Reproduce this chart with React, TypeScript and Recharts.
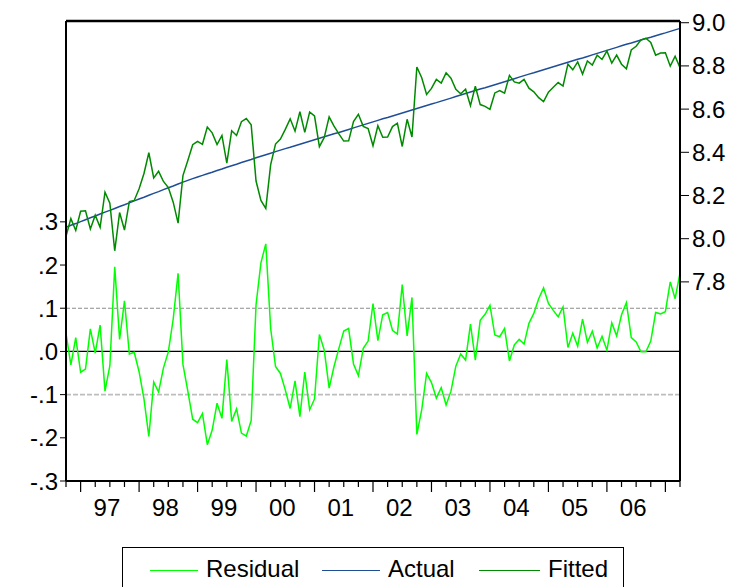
import React from "react";
import {
  LineChart,
  Line,
  XAxis,
  YAxis,
  ReferenceLine,
} from "recharts";

// Monthly sample 1996M10 - 2007M04
const RESIDUAL = [
  0.042, -0.031, 0.032, -0.048, -0.041, 0.052, -0.004, 0.061, -0.092, -0.033,
  0.196, 0.028, 0.117, -0.006, -0.002, -0.047, -0.11, -0.197, -0.071, -0.094,
  -0.038, -0.001, 0.075, 0.181, -0.03, -0.092, -0.157, -0.165, -0.144, -0.216,
  -0.182, -0.12, -0.155, -0.019, -0.162, -0.133, -0.189, -0.196, -0.16, 0.108,
  0.205, 0.249, 0.053, -0.035, -0.051, -0.089, -0.132, -0.068, -0.151, -0.048,
  -0.135, -0.11, 0.039, 0.003, -0.085, -0.035, 0.007, 0.047, 0.053, -0.029,
  -0.056, 0.007, 0.024, 0.111, 0.025, 0.085, 0.09, 0.049, 0.04, 0.155,
  0.036, 0.125, -0.192, -0.135, -0.051, -0.072, -0.108, -0.084, -0.124, -0.092,
  -0.034, -0.006, -0.02, 0.063, -0.02, 0.072, 0.086, 0.107, 0.038, 0.034,
  0.053, -0.022, 0.015, 0.028, 0.017, 0.065, 0.088, 0.122, 0.147, 0.111,
  0.095, 0.08, 0.103, 0.009, 0.042, 0.012, 0.075, 0.021, 0.047, 0.008,
  0.035, 0.003, 0.066, 0.036, 0.085, 0.113, 0.032, 0.022, -0.001, -0.001,
  0.024, 0.09, 0.087, 0.092, 0.161, 0.122, 0.182,
];

const ACTUAL = [
  8.053, 8.062, 8.07, 8.079, 8.088, 8.097, 8.105, 8.114, 8.123, 8.131,
  8.14, 8.149, 8.157, 8.166, 8.175, 8.184, 8.192, 8.201, 8.21, 8.218,
  8.227, 8.236, 8.244, 8.253, 8.262, 8.27, 8.278, 8.286, 8.293, 8.301,
  8.308, 8.316, 8.323, 8.331, 8.338, 8.345, 8.353, 8.36, 8.367, 8.375,
  8.382, 8.389, 8.396, 8.403, 8.41, 8.417, 8.423, 8.43, 8.437, 8.444,
  8.451, 8.458, 8.465, 8.472, 8.479, 8.486, 8.492, 8.499, 8.506, 8.513,
  8.52, 8.527, 8.534, 8.541, 8.548, 8.555, 8.561, 8.568, 8.575, 8.582,
  8.589, 8.596, 8.603, 8.61, 8.617, 8.624, 8.63, 8.637, 8.644, 8.651,
  8.658, 8.665, 8.672, 8.679, 8.686, 8.693, 8.699, 8.706, 8.713, 8.72,
  8.727, 8.734, 8.741, 8.748, 8.755, 8.762, 8.768, 8.775, 8.782, 8.789,
  8.796, 8.803, 8.81, 8.817, 8.824, 8.831, 8.837, 8.844, 8.851, 8.858,
  8.865, 8.872, 8.879, 8.886, 8.893, 8.9, 8.906, 8.913, 8.92, 8.927,
  8.933, 8.94, 8.947, 8.953, 8.96, 8.967, 8.974,
];

const FITTED = [
  8.011, 8.093, 8.038, 8.127, 8.129, 8.045, 8.109, 8.053, 8.215, 8.164,
  7.944, 8.121, 8.04, 8.172, 8.177, 8.231, 8.302, 8.398, 8.281, 8.312,
  8.265, 8.237, 8.169, 8.072, 8.292, 8.362, 8.435, 8.451, 8.437, 8.517,
  8.49, 8.436, 8.478, 8.35, 8.5, 8.478, 8.542, 8.556, 8.527, 8.267,
  8.177, 8.14, 8.343, 8.438, 8.461, 8.506, 8.555, 8.498, 8.588, 8.492,
  8.586, 8.568, 8.426, 8.469, 8.564, 8.521, 8.485, 8.452, 8.453, 8.542,
  8.576, 8.52, 8.51, 8.43, 8.523, 8.47, 8.471, 8.519, 8.535, 8.427,
  8.553, 8.471, 8.795, 8.745, 8.668, 8.696, 8.738, 8.721, 8.768, 8.743,
  8.692, 8.671, 8.692, 8.616, 8.706, 8.621, 8.613, 8.599, 8.675, 8.686,
  8.674, 8.756, 8.726, 8.72, 8.738, 8.697, 8.68, 8.653, 8.635, 8.678,
  8.701, 8.723, 8.707, 8.808, 8.782, 8.819, 8.762, 8.823, 8.804, 8.85,
  8.83, 8.869, 8.813, 8.85, 8.808, 8.787, 8.874, 8.891, 8.921, 8.928,
  8.909, 8.85, 8.86, 8.861, 8.799, 8.845, 8.792,
];

const YEAR_LABELS = ["97", "98", "99", "00", "01", "02", "03", "04", "05", "06"];
const RESID_TICKS = [-0.3, -0.2, -0.1, 0, 0.1, 0.2, 0.3];
const LEVEL_TICKS = [7.8, 8.0, 8.2, 8.4, 8.6, 8.8, 9.0];

const RESID_DOMAIN = [-0.3, 0.765];
const LEVEL_DOMAIN = [6.878, 9.008];

const data = RESIDUAL.map((r, i) => ({
  i,
  residual: r,
  actual: ACTUAL[i],
  fitted: FITTED[i],
}));

const LAST = RESIDUAL.length - 1;
// quarter boundaries (obs 3 = Jan 1997) and year-label positions
const quarterTicks: number[] = [];
for (let q = 0; q <= LAST; q += 3) quarterTicks.push(q);
const labelTicks = YEAR_LABELS.map((_, k) => 8.4 + 12 * k);
const xTicks = [...quarterTicks, ...labelTicks];

const FONT = "Arial, 'Liberation Sans', sans-serif";
const C_RESID = "#00ff00";
const C_ACTUAL = "#1f4e96";
const C_FITTED = "#008a00";

const fmtResid = (v: number) => {
  if (Math.abs(v) < 1e-9) return ".0";
  const s = "." + Math.round(Math.abs(v) * 10);
  return v < 0 ? "-" + s : s;
};

function DateTick(props: any) {
  const { x, y, payload } = props;
  const v = payload.value as number;
  const k = labelTicks.indexOf(v);
  if (k >= 0) {
    return (
      <text x={x} y={y + 35} textAnchor="middle" fontSize={24} fontFamily={FONT} fill="#000">
        {YEAR_LABELS[k]}
      </text>
    );
  }
  const major = (v - 3) % 12 === 0;
  return <line x1={x} x2={x} y1={y} y2={y + (major ? 11 : 6)} stroke="#000" strokeWidth={1.2} />;
}

function LegendItem({ left, lineW, color, label }: { left: number; lineW: number; color: string; label: string }) {
  return (
    <div style={{ position: "absolute", left, top: 9, display: "flex", alignItems: "center" }}>
      <div style={{ width: lineW, height: 0, borderTop: `1.5px solid ${color}`, marginRight: 8, marginTop: 2 }} />
      <span style={{ fontSize: 24, lineHeight: "24px", fontFamily: FONT, color: "#000" }}>{label}</span>
    </div>
  );
}

export default function App() {
  return (
    <div style={{ width: 730, fontFamily: FONT }}>
      <LineChart
        width={730}
        height={520}
        data={data}
        margin={{ top: 13, right: 8, bottom: 7, left: 0 }}
      >
        <XAxis
          dataKey="i"
          type="number"
          domain={[0, LAST]}
          ticks={xTicks}
          interval={0}
          tick={<DateTick />}
          tickLine={false}
          tickSize={0}
          tickMargin={0}
          height={40}
          axisLine={{ stroke: "#000", strokeWidth: 2 }}
        />
        <YAxis
          yAxisId="left"
          domain={RESID_DOMAIN}
          allowDataOverflow
          ticks={RESID_TICKS}
          interval={0}
          tickFormatter={fmtResid}
          width={58}
          tickSize={6}
          tickMargin={2}
          tick={{ fontSize: 24, fontFamily: FONT, fill: "#000" }}
          tickLine={{ stroke: "#000" }}
          axisLine={{ stroke: "#000", strokeWidth: 2 }}
        />
        <YAxis
          yAxisId="right"
          orientation="right"
          domain={LEVEL_DOMAIN}
          allowDataOverflow
          ticks={LEVEL_TICKS}
          interval={0}
          tickFormatter={(v: number) => v.toFixed(1)}
          width={50}
          tickSize={9}
          tickMargin={3}
          tick={{ fontSize: 24, fontFamily: FONT, fill: "#000" }}
          tickLine={{ stroke: "#000" }}
          axisLine={{ stroke: "#000", strokeWidth: 2 }}
        />
        {/* top edge of the frame */}
        <ReferenceLine yAxisId="left" y={RESID_DOMAIN[1]} stroke="#000" strokeWidth={2.5} />
        <ReferenceLine yAxisId="left" y={0.1} stroke="#8c8c8c" strokeWidth={1.2} strokeDasharray="4 2" />
        <ReferenceLine yAxisId="left" y={-0.1} stroke="#bdbdbd" strokeWidth={1.8} strokeDasharray="5 2" />
        <ReferenceLine yAxisId="left" y={0} stroke="#000" strokeWidth={1.2} />
        <Line
          yAxisId="left"
          dataKey="residual"
          stroke={C_RESID}
          strokeWidth={1.5}
          dot={false}
          type="linear"
          isAnimationActive={false}
        />
        <Line
          yAxisId="right"
          dataKey="actual"
          stroke={C_ACTUAL}
          strokeWidth={1.5}
          dot={false}
          type="linear"
          isAnimationActive={false}
        />
        <Line
          yAxisId="right"
          dataKey="fitted"
          stroke={C_FITTED}
          strokeWidth={1.5}
          dot={false}
          type="linear"
          isAnimationActive={false}
        />
      </LineChart>
      <div
        style={{
          position: "relative",
          marginLeft: 114,
          marginTop: 19,
          width: 500,
          height: 44,
          border: "1px solid #000",
        }}
      >
        <LegendItem left={27} lineW={48} color={C_RESID} label="Residual" />
        <LegendItem left={199} lineW={58} color={C_ACTUAL} label="Actual" />
        <LegendItem left={356} lineW={61} color={C_FITTED} label="Fitted" />
      </div>
    </div>
  );
}
